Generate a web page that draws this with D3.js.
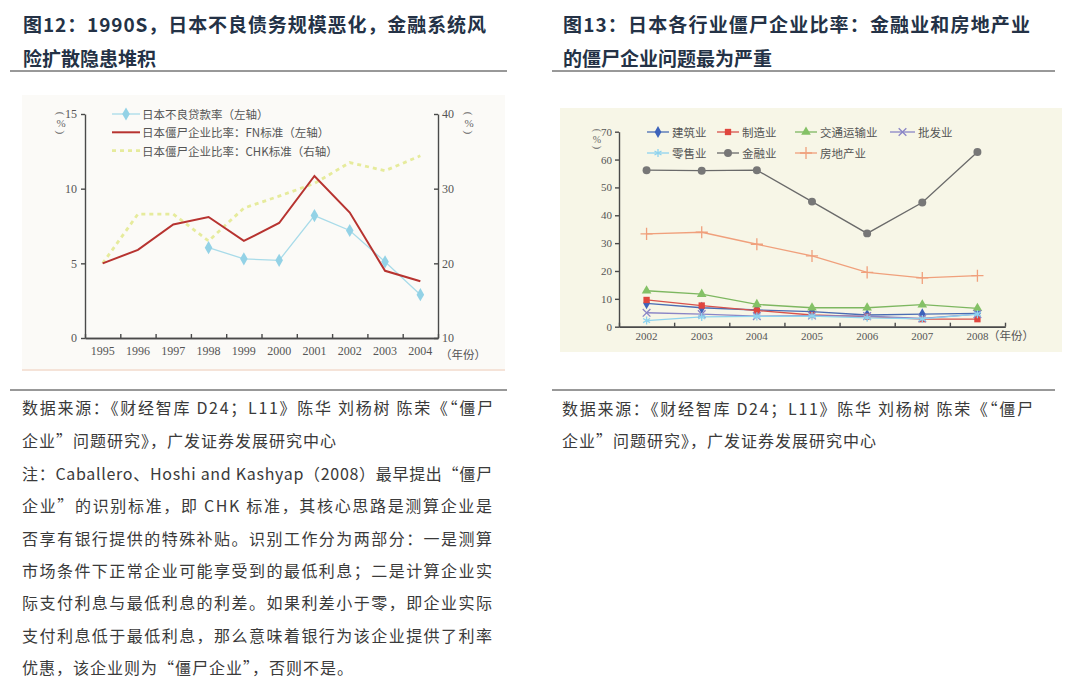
<!DOCTYPE html>
<html>
<head>
<meta charset="utf-8">
<script src="https://cdn.jsdelivr.net/npm/d3@7"></script>
<style>
	body { margin: 0; background: #fff; }
</style>
</head>
<body>
<svg id="page" width="1080" height="700"></svg>
<script>

// Left chart data (fig.12):
var leftYears = ['1995','1996','1997','1998','1999','2000','2001','2002','2003','2004'];
var nplRate   = [null, null, null, 6.05, 5.3, 5.2, 8.2, 7.2, 5.1, 2.9];
var fnZombie  = [5.0, 5.9, 7.6, 8.1, 6.5, 7.7, 10.85, 8.4, 4.5, 3.8];
var chkZombie = [20.0, 26.6, 26.6, 23.0, 27.4, 29.0, 30.7, 33.5, 32.4, 34.4];
var leftTicks  = [0, 5, 10, 15];
var rightTicks = [10, 20, 30, 40];

// Right chart data (fig.13):
var industryYears = ['2002','2003','2004','2005','2006','2007','2008'];
var construction  = [8.4, 6.8, 6.0, 5.4, 4.2, 4.5, 4.8];
var manufacturing = [9.6, 7.6, 5.8, 4.2, 3.6, 2.7, 2.7];
var transport     = [12.9, 11.7, 8.0, 6.8, 6.8, 7.9, 6.6];
var wholesale     = [5.0, 4.5, 3.8, 4.0, 3.8, 3.0, 4.5];
var retail        = [2.2, 3.5, 3.7, 3.8, 3.2, 2.8, 4.5];
var finance       = [56.2, 56.0, 56.2, 44.9, 33.5, 44.6, 62.7];
var realEstate    = [33.3, 33.9, 29.6, 25.4, 19.5, 17.5, 18.3];
var industryTicks = [0, 10, 20, 30, 40, 50, 60, 70];

var CJK = '"Noto Sans CJK SC", "Noto Sans", sans-serif';
var SERIF = '"Liberation Serif", "DejaVu Serif", serif';

var svg = d3.select('#page');

// Plain text helper (len stretches the line like justified text):
function text( x, y, str, opts ) {
	opts = opts || {};
	var t = svg.append('text')
		.attr('x', x)
		.attr('y', y)
		.attr('dominant-baseline', 'central')
		.style('font-family', opts.font || CJK)
		.attr('font-size', opts.size || 16)
		.attr('font-weight', opts.weight || 400)
		.attr('fill', opts.fill || '#333')
		.text(str);
	if (opts.len) {
		t.attr('textLength', opts.len).attr('lengthAdjust', 'spacing');
	}
	if (opts.spacing) {
		t.attr('letter-spacing', opts.spacing);
	}
	return t;
}

// Headings:
var titleStyle = { size: 19, weight: 700, fill: '#243246' };
text(23, 23, '图12：1990S，日本不良债务规模恶化，金融系统风', Object.assign({ len: 463 }, titleStyle));
text(23, 57, '险扩散隐患堆积', titleStyle);
text(563, 23, '图13：日本各行业僵尸企业比率：金融业和房地产业', Object.assign({ len: 467 }, titleStyle));
text(563, 57, '的僵尸企业问题最为严重', titleStyle);

// Rules:
[[10, 507, 71], [552, 1055, 71], [10, 507, 390], [552, 1055, 390]].forEach(function(r) {
	svg.append('line')
		.attr('x1', r[0]).attr('x2', r[1])
		.attr('y1', r[2]).attr('y2', r[2])
		.attr('stroke', '#333')
		.attr('stroke-width', 1);
});

// Sources and notes:
var noteStyle = { size: 16, fill: '#3a3a3a' };
text(22, 407, '数据来源：《财经智库 D24；L11》陈华 刘杨树 陈荣《“僵尸', Object.assign({ len: 471 }, noteStyle));
text(22, 440, '企业”问题研究》，广发证券发展研究中心', Object.assign({ spacing: 1 }, noteStyle));
text(562, 408, '数据来源：《财经智库 D24；L11》陈华 刘杨树 陈荣《“僵尸', Object.assign({ len: 471 }, noteStyle));
text(562, 440, '企业”问题研究》，广发证券发展研究中心', Object.assign({ spacing: 1 }, noteStyle));

var notes = [
	'注：Caballero、Hoshi and Kashyap（2008）最早提出“僵尸',
	'企业”的识别标准，即 CHK 标准，其核心思路是测算企业是',
	'否享有银行提供的特殊补贴。识别工作分为两部分：一是测算',
	'市场条件下正常企业可能享受到的最低利息；二是计算企业实',
	'际支付利息与最低利息的利差。如果利差小于零，即企业实际',
	'支付利息低于最低利息，那么意味着银行为该企业提供了利率',
	'优惠，该企业则为“僵尸企业”，否则不是。'
];
notes.forEach(function(line, i) {
	var o = Object.assign({}, noteStyle);
	if (i < notes.length - 1) { o.len = 470; } else { o.spacing = 1; }
	text(22, 473 + i * 32.3, line, o);
});

// Axis styling:
function styleAxis( g, size ) {
	g.select('.domain').attr('stroke', '#4a4a4a').attr('stroke-width', 1.6);
	g.selectAll('.tick line').attr('stroke', '#4a4a4a').attr('stroke-width', 1.4);
	g.selectAll('.tick text')
		.attr('fill', '#555')
		.style('font-family', SERIF)
		.attr('font-size', size);
}

// Vertical "(%)" unit label, brackets turned sideways:
function unitLabel( x, y, size ) {
	var g = svg.append('g').attr('fill', '#666').attr('font-size', size)
		.attr('text-anchor', 'middle').attr('dominant-baseline', 'central')
		.style('font-family', SERIF);
	g.append('text').attr('transform', 'translate(' + x + ',' + (y - size * 0.85) + ') rotate(90)').text('(');
	g.append('text').attr('x', x).attr('y', y).text('%');
	g.append('text').attr('transform', 'translate(' + x + ',' + (y + size * 0.85) + ') rotate(90)').text(')');
}

// ===================== Fig.12 =====================
svg.append('rect')
	.attr('x', 22).attr('y', 95).attr('width', 483).attr('height', 275)
	.attr('fill', '#fbfaf7');
svg.append('line')
	.attr('x1', 22).attr('x2', 505).attr('y1', 370).attr('y2', 370)
	.attr('stroke', '#f5e3d8').attr('stroke-width', 2);

var xL = d3.scaleBand().domain(leftYears).range([85, 438]);
var yL = d3.scaleLinear().domain([0, 15]).range([338, 114]);
var yR = d3.scaleLinear().domain([10, 40]).range([338, 114]);
var xLc = function(d) { return xL(d) + xL.bandwidth() / 2; };

styleAxis(svg.append('g').attr('transform', 'translate(85,0)')
	.call(d3.axisLeft(yL).tickValues(leftTicks).tickSizeInner(4).tickSizeOuter(0).tickPadding(4)), 12);
styleAxis(svg.append('g').attr('transform', 'translate(438,0)')
	.call(d3.axisRight(yR).tickValues(rightTicks).tickSizeInner(-4).tickSizeOuter(0).tickPadding(4)), 12);
styleAxis(svg.append('g').attr('transform', 'translate(0,338)')
	.call(d3.axisBottom(xL).tickSize(0).tickPadding(8)), 12);
styleAxis(svg.append('g').attr('transform', 'translate(0,338)')
	.call(d3.axisBottom(d3.scaleLinear().domain([0, leftYears.length]).range([85, 438]))
		.ticks(leftYears.length).tickSizeInner(-4).tickSizeOuter(0).tickFormat('')), 12);

text(440, 354, '（年份）', { size: 11.5, fill: '#555' });
unitLabel(61, 123, 11);
unitLabel(469, 123, 11);

function series( years, values ) {
	return years.map(function(y, i) { return { year: y, v: values[i] }; });
}

var lineL = d3.line().defined(function(d) { return d.v != null; })
	.x(function(d) { return xLc(d.year); })
	.y(function(d) { return yL(d.v); });
var lineR = d3.line()
	.x(function(d) { return xLc(d.year); })
	.y(function(d) { return yR(d.v); });

// CHK standard (right axis):
svg.append('path')
	.datum(series(leftYears, chkZombie))
	.attr('d', lineR)
	.attr('fill', 'none')
	.attr('stroke', '#e6eb9c')
	.attr('stroke-width', 2.8)
	.attr('stroke-dasharray', '4,4');

// Non-performing loan ratio:
var npl = series(leftYears, nplRate).filter(function(d) { return d.v != null; });
svg.append('path')
	.datum(npl)
	.attr('d', lineL)
	.attr('fill', 'none')
	.attr('stroke', '#a8dbe9')
	.attr('stroke-width', 1.3);
svg.append('g').selectAll('path')
	.data(npl)
	.join('path')
	.attr('transform', function(d) { return 'translate(' + xLc(d.year) + ',' + yL(d.v) + ')'; })
	.attr('d', d3.symbol(d3.symbolDiamond, 50))
	.attr('fill', '#93d2e6');

// FN standard:
svg.append('path')
	.datum(series(leftYears, fnZombie))
	.attr('d', lineL)
	.attr('fill', 'none')
	.attr('stroke', '#b73330')
	.attr('stroke-width', 2);

// Legend fig.12:
var legL = [
	{ label: '日本不良贷款率（左轴）', color: '#a8dbe9', width: 1.3, marker: '#93d2e6' },
	{ label: '日本僵尸企业比率：FN标准（左轴）', color: '#b73330', width: 2 },
	{ label: '日本僵尸企业比率：CHK标准（右轴）', color: '#e6eb9c', width: 2.8, dash: '4,4' }
];
legL.forEach(function(d, i) {
	var y = 114 + i * 18.3;
	svg.append('line')
		.attr('x1', 112).attr('x2', 140).attr('y1', y).attr('y2', y)
		.attr('stroke', d.color).attr('stroke-width', d.width)
		.attr('stroke-dasharray', d.dash || null);
	if (d.marker) {
		svg.append('path')
			.attr('transform', 'translate(126,' + y + ')')
			.attr('d', d3.symbol(d3.symbolDiamond, 50))
			.attr('fill', d.marker);
	}
	text(142, y, d.label, { size: 11.5, fill: '#555' });
});

// ===================== Fig.13 =====================
svg.append('rect')
	.attr('x', 560).attr('y', 108).attr('width', 502).attr('height', 244)
	.attr('fill', '#f7f6e7');

var xI = d3.scaleBand().domain(industryYears).range([619, 1005]);
var yI = d3.scaleLinear().domain([0, 70]).range([326.7, 131.7]);
var xIc = function(d) { return xI(d) + xI.bandwidth() / 2; };

styleAxis(svg.append('g').attr('transform', 'translate(619,0)')
	.call(d3.axisLeft(yI).tickValues(industryTicks).tickSizeInner(4).tickSizeOuter(0).tickPadding(3)), 11);
styleAxis(svg.append('g').attr('transform', 'translate(0,326.7)')
	.call(d3.axisBottom(xI).tickSize(0).tickPadding(6)), 11);
styleAxis(svg.append('g').attr('transform', 'translate(0,326.7)')
	.call(d3.axisBottom(d3.scaleLinear().domain([0, industryYears.length]).range([619, 1005]))
		.ticks(industryYears.length).tickSizeInner(-4).tickSizeOuter(0).tickFormat('')), 11);
svg.selectAll('.domain').attr('stroke-width', 1.4);

text(988, 335, '（年份）', { size: 11.5, fill: '#555' });
unitLabel(597, 139, 10);

var symTimes = d3.symbolTimes || d3.symbolX || d3.symbolCross;
var symPlus = d3.symbolPlus || d3.symbolCross;
var symStar = d3.symbolAsterisk || d3.symbolStar;

var industries = [
	{ name: '建筑业',   values: construction,  line: '#4a6cb3', fill: '#3d63bb', sym: d3.symbolDiamond, size: 40 },
	{ name: '制造业',   values: manufacturing, line: '#d8524c', fill: '#e0463e', sym: d3.symbolSquare,  size: 40 },
	{ name: '交通运输业', values: transport,   line: '#7db760', fill: '#84c166', sym: d3.symbolTriangle, size: 40 },
	{ name: '批发业',   values: wholesale,     line: '#8a85c6', stroke: true, sym: symTimes, size: 40 },
	{ name: '零售业',   values: retail,        line: '#8ed3ee', stroke: true, sym: symStar,  size: 45 },
	{ name: '金融业',   values: finance,       line: '#6a6a6a', fill: '#777',    sym: d3.symbolCircle, size: 50 },
	{ name: '房地产业', values: realEstate,    line: '#f0a07c', stroke: true, sym: symPlus,  size: 50 }
];

var lineI = d3.line()
	.x(function(d) { return xIc(d.year); })
	.y(function(d) { return yI(d.v); });

function drawMarker( g, d ) {
	var p = g.append('path').attr('d', d3.symbol(d.sym, d.size));
	if (d.stroke) {
		p.attr('fill', 'none').attr('stroke', d.line).attr('stroke-width', 1.3);
	} else {
		p.attr('fill', d.fill);
	}
	return p;
}

industries.forEach(function(ind) {
	var pts = series(industryYears, ind.values);
	svg.append('path')
		.datum(pts)
		.attr('d', lineI)
		.attr('fill', 'none')
		.attr('stroke', ind.line)
		.attr('stroke-width', 1.3);
	pts.forEach(function(p) {
		var g = svg.append('g').attr('transform', 'translate(' + xIc(p.year) + ',' + yI(p.v) + ')');
		drawMarker(g, ind);
	});
});

// Legend fig.13:
var legX = [647, 717, 795, 890];
industries.forEach(function(ind, i) {
	var row = i < 4 ? 0 : 1;
	var x = legX[row ? i - 4 : i];
	var y = row ? 153 : 132;
	var w = (x === 890) ? 25 : 22;
	svg.append('line')
		.attr('x1', x).attr('x2', x + w).attr('y1', y).attr('y2', y)
		.attr('stroke', ind.line).attr('stroke-width', 1.3);
	drawMarker(svg.append('g').attr('transform', 'translate(' + (x + w / 2) + ',' + y + ')'), ind);
	text(x + w + 3, y, ind.name, { size: 11.5, fill: '#555' });
});

</script>
</body>
</html>
